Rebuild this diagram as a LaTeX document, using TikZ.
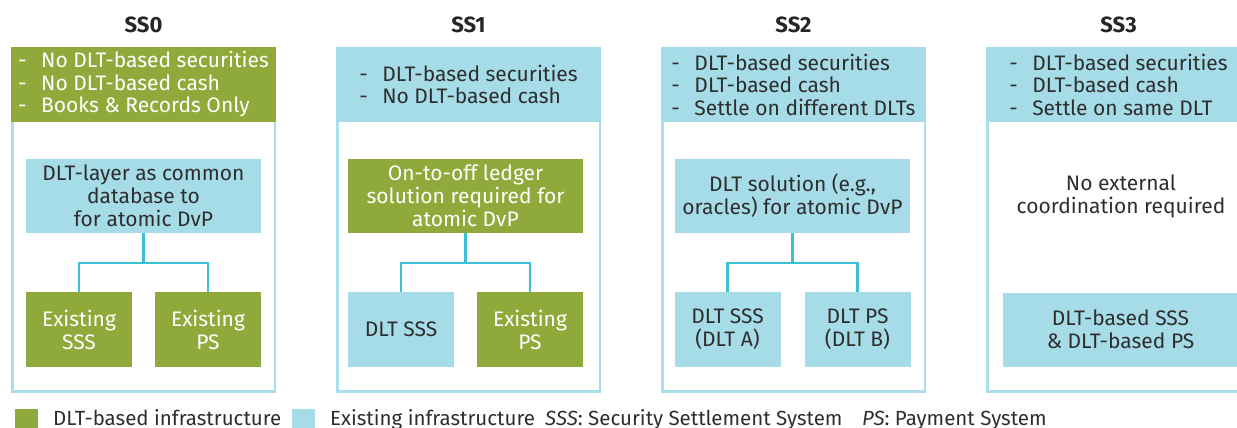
\documentclass[tikz,border=0pt]{standalone}
\usepackage{fontspec}
\setmainfont{Fira Sans}
\usetikzlibrary{calc}
\definecolor{dltgreen}{HTML}{8FAA3B}
\definecolor{exblue}{HTML}{A6DCE8}
\definecolor{linkc}{HTML}{3CC0D8}
\definecolor{framec}{HTML}{A9DEEA}
\definecolor{txt}{HTML}{2E2E2E}
\newcommand\hdash{\makebox[23pt][l]{-}}
\begin{document}
\begin{tikzpicture}[x=1pt,y=-1pt,
  box/.style={inner sep=0pt, outer sep=0pt, align=center, font=\fontsize{21}{23}\selectfont},
  greenbox/.style={box, fill=dltgreen, text=white},
  bluebox/.style={box, fill=exblue, text=txt},
  header/.style={minimum width=265pt, minimum height=75pt, align=left, font=\fontsize{21}{22.5}\selectfont},
  topbox/.style={minimum width=235pt, minimum height=74pt},
  childbox/.style={minimum width=106pt, minimum height=75pt},
  framebox/.style={draw=framec, line width=2.5pt},
  link/.style={draw=linkc, line width=2.5pt},
  titletext/.style={font=\fontsize{22}{24}\selectfont\bfseries, text=black!85},
  plain/.style={inner sep=0pt, font=\fontsize{21}{23}\selectfont, text=txt},
  legtext/.style={inner sep=0pt, anchor=base west, font=\fontsize{20.5}{22}\selectfont, text=txt}]
\useasboundingbox (0,0) rectangle (1237,428);
\clip (0,0) rectangle (1237,428);

% ---------- SS0 ----------
\node[titletext] (t0) at (143.5,25) {SS0};
\draw[framebox] (12.25,121) rectangle (274.75,391.5);
\node[greenbox, header] (h0) at (143.5,84.5) {\hdash No DLT-based securities\\ \hdash No DLT-based cash\\ \hdash Books \& Records Only};
\node[bluebox, topbox] (a0) at (143.5,196) {DLT-layer as common\\database to\\for atomic DvP};
\node[greenbox, childbox] (l0) at (79,329.5) {Existing\\SSS};
\node[greenbox, childbox] (r0) at (208,329.5) {Existing\\PS};
\coordinate (j0) at (143.5,263);
\draw[link] (a0.south) -- (j0) -| (l0.north);
\draw[link] (j0) -| (r0.north);

% ---------- SS1 ----------
\node[titletext] (t1) at (468.5,25) {SS1};
\draw[framebox] (337.25,121) rectangle (599.75,391.5);
\node[bluebox, header] (h1) at (468.5,84.5) {\hdash DLT-based securities\\ \hdash No DLT-based cash};
\node[greenbox, topbox] (a1) at (465.5,196) {On-to-off ledger\\solution required for\\atomic DvP};
\node[bluebox, childbox] (l1) at (401,329.5) {DLT SSS};
\node[greenbox, childbox] (r1) at (530,329.5) {Existing\\PS};
\coordinate (j1) at (465.5,263);
\draw[link] (a1.south) -- (j1) -| (l1.north);
\draw[link] (j1) -| (r1.north);

% ---------- SS2 ----------
\node[titletext] (t2) at (793.5,25) {SS2};
\draw[framebox] (662.25,121) rectangle (924.75,391.5);
\node[bluebox, header] (h2) at (793.5,84.5) {\hdash DLT-based securities\\ \hdash DLT-based cash\\ \hdash Settle on different DLTs};
\node[bluebox, topbox] (a2) at (792.5,196) {DLT solution (e.g.,\\oracles) for atomic DvP};
\node[bluebox, childbox] (l2) at (727.5,329.5) {DLT SSS\\(DLT A)};
\node[bluebox, childbox] (r2) at (857.5,329.5) {DLT PS\\(DLT B)};
\coordinate (j2) at (792.5,263);
\draw[link] (a2.south) -- (j2) -| (l2.north);
\draw[link] (j2) -| (r2.north);

% ---------- SS3 ----------
\node[titletext] (t3) at (1118.5,25) {SS3};
\draw[framebox] (987.25,121) rectangle (1249.75,391.5);
\node[bluebox, header] (h3) at (1118.5,84.5) {\hdash DLT-based securities\\ \hdash DLT-based cash\\ \hdash Settle on same DLT};
\node[plain, align=center] (a3) at (1121,196) {No external\\coordination required};
\node[bluebox, topbox] (b3) at (1120.5,329.5) {DLT-based SSS\\\& DLT-based PS};

% ---------- Legend ----------
\fill[dltgreen] (15,409) rectangle (38,430);
\node[legtext] (lg1) at (53,425) {DLT-based infrastructure};
\fill[exblue] (292,409) rectangle (315,430);
\node[legtext] (lg2) at (330,425) {Existing infrastructure};
\node[legtext] (lg3) at (545,425) {\textit{SSS}: Security Settlement System};
\node[legtext] (lg4) at (862,425) {\textit{PS}: Payment System};
\end{tikzpicture}
\end{document}
